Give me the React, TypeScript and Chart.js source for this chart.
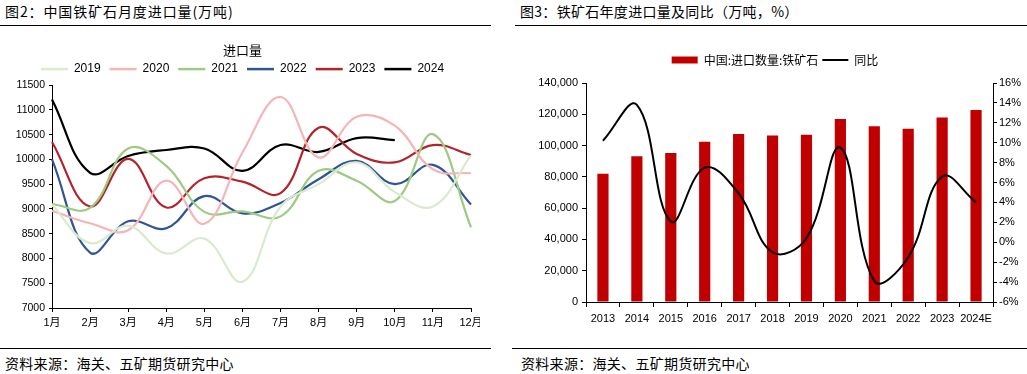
import React, { useEffect, useRef } from 'react';
import { Chart, registerables } from 'chart.js';

Chart.register(...registerables);

const FONT = "'Liberation Sans', 'Noto Sans CJK SC', sans-serif";
const CJK = "'Noto Sans CJK SC', 'Liberation Sans', sans-serif";

// ---- Left chart: monthly imports (万吨) ----
const months = ['1月', '2月', '3月', '4月', '5月', '6月', '7月', '8月', '9月', '10月', '11月', '12月'];
const y2019 = [9080, 8310, 8660, 8100, 8400, 7530, 9050, 9500, 9940, 9340, 9050, 10080];
const y2020 = [8960, 8710, 8570, 9570, 8700, 10140, 11260, 10040, 10860, 10680, 9800, 9720];
const y2021 = [9100, 9020, 10220, 9870, 8940, 8950, 8850, 9770, 9570, 9160, 10510, 8630];
const y2022 = [10000, 8120, 8750, 8610, 9260, 8910, 9120, 9600, 9970, 9500, 9890, 9090];
const y2023 = [10350, 9050, 10010, 9030, 9620, 9550, 9320, 10640, 10110, 9940, 10290, 10090];
const y2024 = [11210, 9730, 10070, 10190, 10220, 9770, 10290, 10150, 10430, 10390];
const seriesNames = ['2019', '2020', '2021', '2022', '2023', '2024'];
const seriesColors = ['#D9EBCF', '#F4B5B7', '#9DCB82', '#2F5597', '#B3232B', '#000000'];
const leftYTicks = { min: 7000, max: 11500, step: 500 };

// ---- Right chart: yearly imports & YoY ----
const years = ['2013', '2014', '2015', '2016', '2017', '2018', '2019', '2020', '2021', '2022', '2023', '2024E'];
const importsYear = [81941, 93251, 95272, 102412, 107474, 106447, 106895, 117010, 112431, 110686, 117906, 122700];
const yoyPct = [10.2, 13.8, 2.1, 7.5, 4.9, -1.0, 0.4, 9.5, -3.9, -1.5, 6.6, 4.0];
const rightYTicks = { min: 0, max: 140000, step: 20000 };
const rightY1Ticks = { min: -6, max: 16, step: 2 };

function LeftChart() {
  const ref = useRef<HTMLCanvasElement>(null);
  useEffect(() => {
    const datasets = seriesNames.map((name, i) => ({
      label: name,
      data: [y2019, y2020, y2021, y2022, y2023, y2024][i],
      borderColor: seriesColors[i],
      backgroundColor: seriesColors[i],
      borderWidth: 2.2,
      pointRadius: 0,
      tension: 0.4,
      fill: false,
    }));
    const chart = new Chart(ref.current!, {
      type: 'line',
      data: { labels: months, datasets },
      options: {
        animation: false,
        responsive: false,
        events: [],
        layout: { padding: { left: 0, right: 0, top: 1, bottom: 0 } },
        plugins: {
          tooltip: { enabled: false },
          legend: {
            position: 'top',
            align: 'center',
            title: {
              display: true,
              text: '进口量',
              color: '#000',
              font: { family: CJK, size: 13 },
              padding: { top: 13, bottom: -5.5 },
            },
            labels: {
              usePointStyle: true,
              pointStyle: 'line',
              pointStyleWidth: 27,
              boxHeight: 8,
              color: '#000',
              font: { family: FONT, size: 12 },
              padding: 9,
              generateLabels: (c: any) => {
                const items = Chart.defaults.plugins.legend.labels.generateLabels(c);
                items.forEach((it: any) => { it.pointStyle = 'line'; it.lineWidth = 2.5; });
                return items;
              },
            },
          },
        },
        scales: {
          x: {
            offset: false,
            grid: { display: true, drawOnChartArea: false, drawTicks: true, tickLength: 4, color: '#000' },
            border: { display: true, color: '#000', width: 1 },
            ticks: { color: '#000', font: { family: FONT, size: 11 }, maxRotation: 0, autoSkip: false, padding: 4 },
            afterFit: (s: any) => { s.height = 22; s.paddingLeft = 0; s.paddingRight = 14; },
          },
          y: {
            min: leftYTicks.min,
            max: leftYTicks.max,
            ticks: {
              stepSize: leftYTicks.step,
              color: '#000',
              font: { family: FONT, size: 10.5 },
              padding: 4,
              callback: (v: any) => String(v),
            },
            grid: { display: true, drawOnChartArea: false, drawTicks: true, tickLength: 3, color: '#000' },
            border: { display: true, color: '#000', width: 1 },
            afterFit: (s: any) => { s.width = 52; },
          },
        },
      },
    } as any);
    return () => chart.destroy();
  }, []);
  return (
    <div style={{ position: 'absolute', left: 0, top: 30, width: 480, height: 300, overflow: 'hidden' }}>
      <canvas ref={ref} width={485} height={300} style={{ display: 'block', width: 485, height: 300 }} />
    </div>
  );
}

function RightChart() {
  const ref = useRef<HTMLCanvasElement>(null);
  useEffect(() => {
    const chart = new Chart(ref.current!, {
      type: 'bar',
      data: {
        labels: years,
        datasets: [
          {
            type: 'bar',
            label: '中国:进口数量:铁矿石',
            data: importsYear,
            backgroundColor: '#C00000',
            borderWidth: 0,
            yAxisID: 'y',
            categoryPercentage: 1,
            barPercentage: 0.33,
            order: 2,
          },
          {
            type: 'line',
            label: '同比',
            data: yoyPct,
            borderColor: '#000',
            backgroundColor: '#000',
            borderWidth: 2,
            pointRadius: 0,
            tension: 0.4,
            yAxisID: 'y1',
            order: 1,
          },
        ],
      },
      options: {
        animation: false,
        responsive: false,
        events: [],
        layout: { padding: { left: 8, right: 0, top: 20, bottom: 0 } },
        plugins: {
          tooltip: { enabled: false },
          subtitle: {
            display: true,
            text: '',
            position: 'top',
            weight: 500,
            font: { size: 1, lineHeight: 1 },
            padding: { top: 0, bottom: 6 },
          },
          legend: {
            position: 'top',
            align: 'center',
            labels: {
              usePointStyle: true,
              pointStyleWidth: 26,
              boxHeight: 7,
              color: '#000',
              font: { family: CJK, size: 12 },
              padding: 4,
              sort: (a: any, b: any) => a.datasetIndex - b.datasetIndex,
              generateLabels: (c: any) => {
                const items = Chart.defaults.plugins.legend.labels.generateLabels(c);
                items.forEach((it: any) => {
                  if (it.datasetIndex === 0) { it.pointStyle = 'rect'; it.lineWidth = 0; it.fillStyle = '#C00000'; it.strokeStyle = '#C00000'; }
                  else { it.pointStyle = 'line'; it.lineWidth = 2; it.strokeStyle = '#000'; }
                });
                return items;
              },
            },
          },
        },
        scales: {
          x: {
            offset: true,
            grid: { display: true, offset: true, drawOnChartArea: false, drawTicks: true, tickLength: 5, color: '#000' },
            border: { display: true, color: '#000', width: 1 },
            ticks: { color: '#000', font: { family: FONT, size: 11 }, maxRotation: 0, autoSkip: false, padding: 5 },
            afterFit: (s: any) => { s.height = 28; s.paddingLeft = 0; s.paddingRight = 0; },
          },
          y: {
            position: 'left',
            min: rightYTicks.min,
            max: rightYTicks.max,
            ticks: {
              stepSize: rightYTicks.step,
              color: '#000',
              font: { family: FONT, size: 11 },
              padding: 4,
              callback: (v: any) => Number(v).toLocaleString('en-US'),
            },
            grid: { display: true, drawOnChartArea: false, drawTicks: true, tickLength: 4, color: '#000' },
            border: { display: true, color: '#000', width: 1 },
            afterFit: (s: any) => { s.width = 63; },
          },
          y1: {
            position: 'right',
            min: rightY1Ticks.min,
            max: rightY1Ticks.max,
            ticks: {
              stepSize: rightY1Ticks.step,
              color: '#000',
              font: { family: FONT, size: 11 },
              padding: 2,
              callback: (v: any) => `${v}%`,
            },
            grid: { display: true, drawOnChartArea: false, drawTicks: true, tickLength: 4, color: '#000' },
            border: { display: true, color: '#000', width: 1 },
            afterFit: (s: any) => { s.width = 34; },
          },
        },
      },
    } as any);
    return () => chart.destroy();
  }, []);
  return <canvas ref={ref} width={512} height={300} style={{ position: 'absolute', left: 515, top: 30, width: 512, height: 300 }} />;
}

export default function App() {
  const titleStyle: React.CSSProperties = { position: 'absolute', top: 2, fontFamily: CJK, fontSize: 14, color: '#000', whiteSpace: 'nowrap', lineHeight: '18px' };
  const srcStyle: React.CSSProperties = { position: 'absolute', top: 354, fontFamily: CJK, fontSize: 14, color: '#000', whiteSpace: 'nowrap', lineHeight: '18px', letterSpacing: '0.3px' };
  const line = (left: number, top: number, width: number): React.CSSProperties => ({ position: 'absolute', left, top, width, height: 1, background: '#000' });
  return (
    <div style={{ position: 'absolute', left: 0, top: 0, width: 1027, height: 374, background: '#fff', overflow: 'hidden' }}>
      <div style={{ ...titleStyle, left: 5, letterSpacing: '0.9px' }}>图2：中国铁矿石月度进口量(万吨)</div>
      <div style={{ ...titleStyle, left: 520, letterSpacing: '0.3px' }}>图3：铁矿石年度进口量及同比（万吨，%）</div>
      <div style={line(0, 25, 491)} />
      <div style={line(515, 25, 512)} />
      <LeftChart />
      <RightChart />
      <div style={line(0, 348, 491)} />
      <div style={line(512, 348, 515)} />
      <div style={{ ...srcStyle, left: 5 }}>资料来源：海关、五矿期货研究中心</div>
      <div style={{ ...srcStyle, left: 521 }}>资料来源：海关、五矿期货研究中心</div>
    </div>
  );
}
